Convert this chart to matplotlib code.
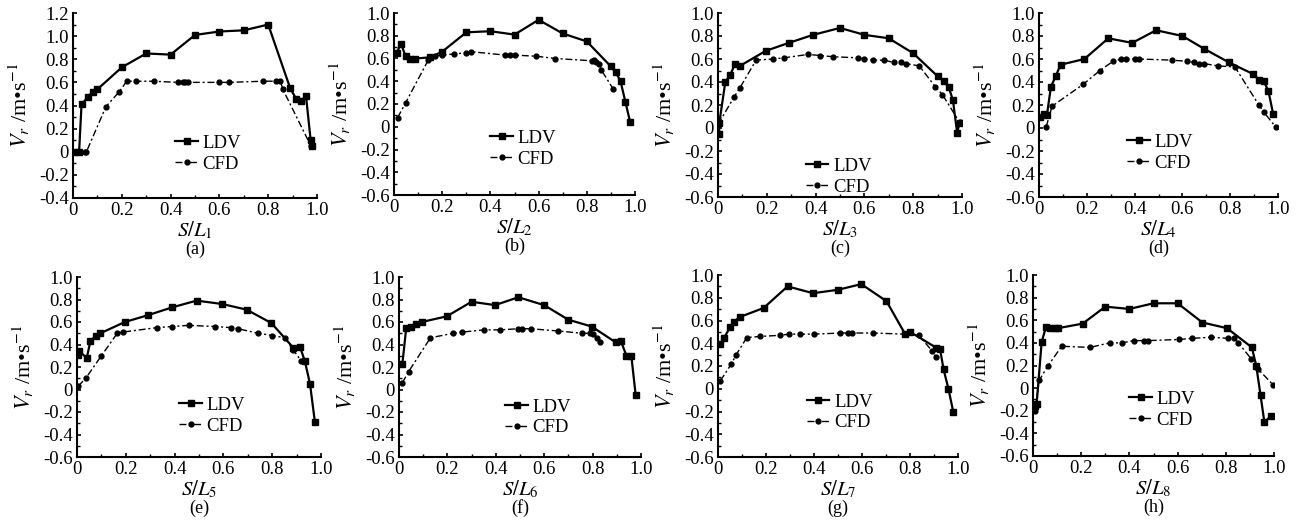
import matplotlib
matplotlib.use("Agg")
import matplotlib.pyplot as plt
from matplotlib.ticker import MultipleLocator, FuncFormatter

plt.rcParams['font.family'] = ['Liberation Serif', 'DejaVu Serif']
plt.rcParams['mathtext.fontset'] = 'stix'
plt.rcParams['axes.unicode_minus'] = True

# ---------------- data ----------------
a_ldv_x = [0.005, 0.025, 0.035, 0.06, 0.08, 0.1, 0.2, 0.3, 0.4, 0.5, 0.6, 0.7, 0.8, 0.89, 0.914, 0.933, 0.955, 0.974, 0.98]
a_ldv_y = [0.0, 0.0, 0.41, 0.47, 0.52, 0.54, 0.73, 0.85, 0.84, 1.01, 1.04, 1.05, 1.10, 0.55, 0.46, 0.44, 0.48, 0.10, 0.05]
a_cfd_x = [0.005, 0.05, 0.055, 0.135, 0.19, 0.22, 0.26, 0.33, 0.43, 0.45, 0.46, 0.47, 0.6, 0.64, 0.78, 0.83, 0.85, 0.86, 0.975]
a_cfd_y = [0.0, 0.0, 0.0, 0.39, 0.52, 0.61, 0.61, 0.61, 0.60, 0.60, 0.60, 0.60, 0.60, 0.60, 0.61, 0.61, 0.61, 0.54, 0.05]

b_ldv_x = [0.011, 0.029, 0.048, 0.066, 0.087, 0.15, 0.2, 0.3, 0.4, 0.5, 0.6, 0.7, 0.8, 0.9, 0.92, 0.94, 0.96, 0.98]
b_ldv_y = [0.65, 0.73, 0.62, 0.60, 0.60, 0.61, 0.66, 0.83, 0.84, 0.81, 0.94, 0.82, 0.75, 0.53, 0.48, 0.40, 0.22, 0.04]
b_cfd_x = [0.015, 0.048, 0.143, 0.17, 0.2, 0.25, 0.3, 0.32, 0.46, 0.48, 0.5, 0.59, 0.67, 0.82, 0.83, 0.84, 0.85, 0.86, 0.91]
b_cfd_y = [0.08, 0.21, 0.59, 0.62, 0.63, 0.64, 0.65, 0.66, 0.63, 0.63, 0.63, 0.62, 0.60, 0.58, 0.59, 0.57, 0.55, 0.50, 0.33]

c_ldv_x = [0.005, 0.005, 0.03, 0.05, 0.07, 0.09, 0.195, 0.29, 0.39, 0.5, 0.6, 0.7, 0.8, 0.9, 0.925, 0.945, 0.963, 0.98, 0.99]
c_ldv_y = [-0.05, 0.04, 0.40, 0.46, 0.56, 0.54, 0.67, 0.74, 0.81, 0.87, 0.81, 0.78, 0.65, 0.45, 0.41, 0.36, 0.24, -0.04, 0.04]
c_cfd_x = [0.0, 0.066, 0.09, 0.156, 0.225, 0.27, 0.37, 0.42, 0.47, 0.575, 0.6, 0.635, 0.68, 0.72, 0.75, 0.77, 0.825, 0.89, 0.92, 0.99]
c_cfd_y = [0.03, 0.27, 0.35, 0.59, 0.60, 0.61, 0.64, 0.63, 0.62, 0.61, 0.60, 0.59, 0.59, 0.57, 0.57, 0.56, 0.54, 0.36, 0.29, 0.05]

d_ldv_x = [0.003, 0.02, 0.033, 0.05, 0.07, 0.09, 0.19, 0.29, 0.39, 0.49, 0.6, 0.69, 0.795, 0.895, 0.92, 0.94, 0.96, 0.98]
d_ldv_y = [0.10, 0.12, 0.11, 0.36, 0.45, 0.55, 0.60, 0.78, 0.74, 0.85, 0.80, 0.69, 0.57, 0.47, 0.42, 0.41, 0.32, 0.12]
d_cfd_x = [0.03, 0.055, 0.185, 0.255, 0.31, 0.345, 0.365, 0.40, 0.42, 0.555, 0.62, 0.65, 0.67, 0.69, 0.75, 0.82, 0.92, 0.94, 0.99]
d_cfd_y = [0.01, 0.19, 0.38, 0.50, 0.58, 0.60, 0.60, 0.60, 0.60, 0.59, 0.58, 0.57, 0.56, 0.56, 0.54, 0.53, 0.20, 0.14, 0.01]

e_ldv_x = [0.004, 0.01, 0.04, 0.055, 0.077, 0.096, 0.196, 0.29, 0.39, 0.49, 0.595, 0.695, 0.797, 0.887, 0.914, 0.934, 0.955, 0.975]
e_ldv_y = [0.31, 0.34, 0.28, 0.43, 0.48, 0.50, 0.60, 0.66, 0.73, 0.79, 0.76, 0.71, 0.59, 0.37, 0.38, 0.25, 0.05, -0.29]
e_cfd_x = [0.005, 0.036, 0.1, 0.165, 0.187, 0.327, 0.39, 0.457, 0.567, 0.63, 0.66, 0.743, 0.80, 0.852, 0.887, 0.92]
e_cfd_y = [0.03, 0.10, 0.30, 0.50, 0.51, 0.55, 0.56, 0.57, 0.56, 0.55, 0.54, 0.50, 0.48, 0.46, 0.35, 0.25]

f_ldv_x = [0.014, 0.03, 0.05, 0.07, 0.094, 0.197, 0.3, 0.397, 0.493, 0.6, 0.7, 0.796, 0.895, 0.917, 0.94, 0.96, 0.978]
f_ldv_y = [0.23, 0.55, 0.56, 0.58, 0.60, 0.65, 0.78, 0.75, 0.82, 0.75, 0.62, 0.56, 0.42, 0.43, 0.30, 0.30, -0.05]
f_cfd_x = [0.014, 0.04, 0.13, 0.225, 0.26, 0.35, 0.417, 0.493, 0.51, 0.545, 0.658, 0.755, 0.79, 0.803, 0.82, 0.83]
f_cfd_y = [0.06, 0.16, 0.46, 0.50, 0.51, 0.53, 0.53, 0.54, 0.54, 0.54, 0.52, 0.50, 0.50, 0.49, 0.46, 0.42]

g_ldv_x = [0.01, 0.026, 0.05, 0.068, 0.09, 0.19, 0.29, 0.396, 0.5, 0.597, 0.702, 0.78, 0.80, 0.91, 0.925, 0.94, 0.96, 0.98]
g_ldv_y = [0.39, 0.45, 0.54, 0.59, 0.63, 0.71, 0.90, 0.84, 0.87, 0.92, 0.77, 0.48, 0.50, 0.36, 0.35, 0.17, 0.0, -0.20]
g_cfd_x = [0.01, 0.056, 0.076, 0.12, 0.177, 0.26, 0.295, 0.343, 0.4, 0.51, 0.54, 0.56, 0.647, 0.78, 0.837, 0.893, 0.907]
g_cfd_y = [0.07, 0.22, 0.30, 0.45, 0.46, 0.47, 0.48, 0.48, 0.48, 0.49, 0.49, 0.49, 0.49, 0.48, 0.47, 0.33, 0.28]

h_ldv_x = [0.008, 0.015, 0.036, 0.054, 0.07, 0.09, 0.104, 0.206, 0.30, 0.40, 0.50, 0.60, 0.703, 0.805, 0.908, 0.926, 0.944, 0.96, 0.986]
h_ldv_y = [-0.16, -0.14, 0.41, 0.54, 0.53, 0.53, 0.53, 0.57, 0.72, 0.70, 0.75, 0.75, 0.58, 0.53, 0.36, 0.20, -0.06, -0.30, -0.25]
h_cfd_x = [0.008, 0.026, 0.063, 0.119, 0.237, 0.318, 0.37, 0.418, 0.46, 0.476, 0.606, 0.66, 0.74, 0.808, 0.836, 0.852, 0.905, 0.933, 0.996]
h_cfd_y = [-0.20, 0.07, 0.20, 0.37, 0.36, 0.40, 0.40, 0.42, 0.42, 0.42, 0.43, 0.44, 0.45, 0.44, 0.44, 0.40, 0.26, 0.17, 0.03]

panel_letters = ['a', 'b', 'c', 'd', 'e', 'f', 'g', 'h']
series_labels = ['LDV', 'CFD']
ldv_x = [a_ldv_x, b_ldv_x, c_ldv_x, d_ldv_x, e_ldv_x, f_ldv_x, g_ldv_x, h_ldv_x]
ldv_y = [a_ldv_y, b_ldv_y, c_ldv_y, d_ldv_y, e_ldv_y, f_ldv_y, g_ldv_y, h_ldv_y]
cfd_x = [a_cfd_x, b_cfd_x, c_cfd_x, d_cfd_x, e_cfd_x, f_cfd_x, g_cfd_x, h_cfd_x]
cfd_y = [a_cfd_y, b_cfd_y, c_cfd_y, d_cfd_y, e_cfd_y, f_cfd_y, g_cfd_y, h_cfd_y]

# ---------------- layout (pixels) ----------------
W, H = 1297, 524
# left, right, top, bottom in pixels
boxes = [(73, 317, 13, 198), (394, 635, 13, 195), (718, 962, 13, 197), (1039, 1278, 13, 197),
         (77, 321, 277, 457), (399, 641, 277, 457), (718, 958, 275, 457), (1033, 1274, 275, 456)]
legend_pos = [(0.42, 0.24), (0.40, 0.255), (0.36, 0.11), (0.37, 0.24),
              (0.42, 0.23), (0.44, 0.22), (0.37, 0.245), (0.40, 0.255)]

fig = plt.figure(figsize=(W / 100, H / 100), dpi=100)

def fmt(v, pos):
    if abs(v) < 1e-9:
        return '0'
    return '%.1f' % v

for i in range(8):
    l, r, t, b = boxes[i]
    ax = fig.add_axes([l / W, 1 - b / H, (r - l) / W, (b - t) / H])
    ax.plot(ldv_x[i], ldv_y[i], color='black', linestyle='-', linewidth=1.6,
            marker='s', markersize=4, label=series_labels[0])
    ax.plot(cfd_x[i], cfd_y[i], color='black', linestyle=(0, (5, 2, 1.5, 2)), linewidth=1.0,
            marker='o', markersize=3.5, label=series_labels[1])
    ax.set_xlim(0, 1.0)
    if i == 0:
        ax.set_ylim(-0.4, 1.2)
    else:
        ax.set_ylim(-0.6, 1.0)
    ax.xaxis.set_major_locator(MultipleLocator(0.2))
    ax.xaxis.set_minor_locator(MultipleLocator(0.1))
    ax.yaxis.set_major_locator(MultipleLocator(0.2))
    ax.yaxis.set_minor_locator(MultipleLocator(0.1))
    ax.xaxis.set_major_formatter(FuncFormatter(fmt))
    ax.yaxis.set_major_formatter(FuncFormatter(fmt))
    ax.tick_params(which='major', direction='in', length=3, width=1.2, labelsize=13.5, pad=3)
    ax.tick_params(which='minor', direction='in', length=2, width=1.0)
    for s in ['top', 'right']:
        ax.spines[s].set_visible(False)
    for s in ['left', 'bottom']:
        ax.spines[s].set_linewidth(1.5)
    ax.set_ylabel(r'$V_r$ /m•s$^{-1}$', fontsize=16, labelpad=5)
    ax.set_xlabel(r'$S/L_{\mathrm{%d}}$' % (i + 1), fontsize=15, labelpad=0)
    ax.annotate('(%s)' % panel_letters[i], xy=(0.5, 0), xycoords='axes fraction',
                xytext=(0, -37), textcoords='offset points', ha='center', va='center', fontsize=13)
    lx, ly = legend_pos[i]
    ax.legend(loc='center left', bbox_to_anchor=(lx, ly), frameon=False, fontsize=13.5,
              handlelength=1.2, handletextpad=0.25, labelspacing=0.2, borderpad=0, borderaxespad=0)

fig.savefig('out.png', dpi=100)
